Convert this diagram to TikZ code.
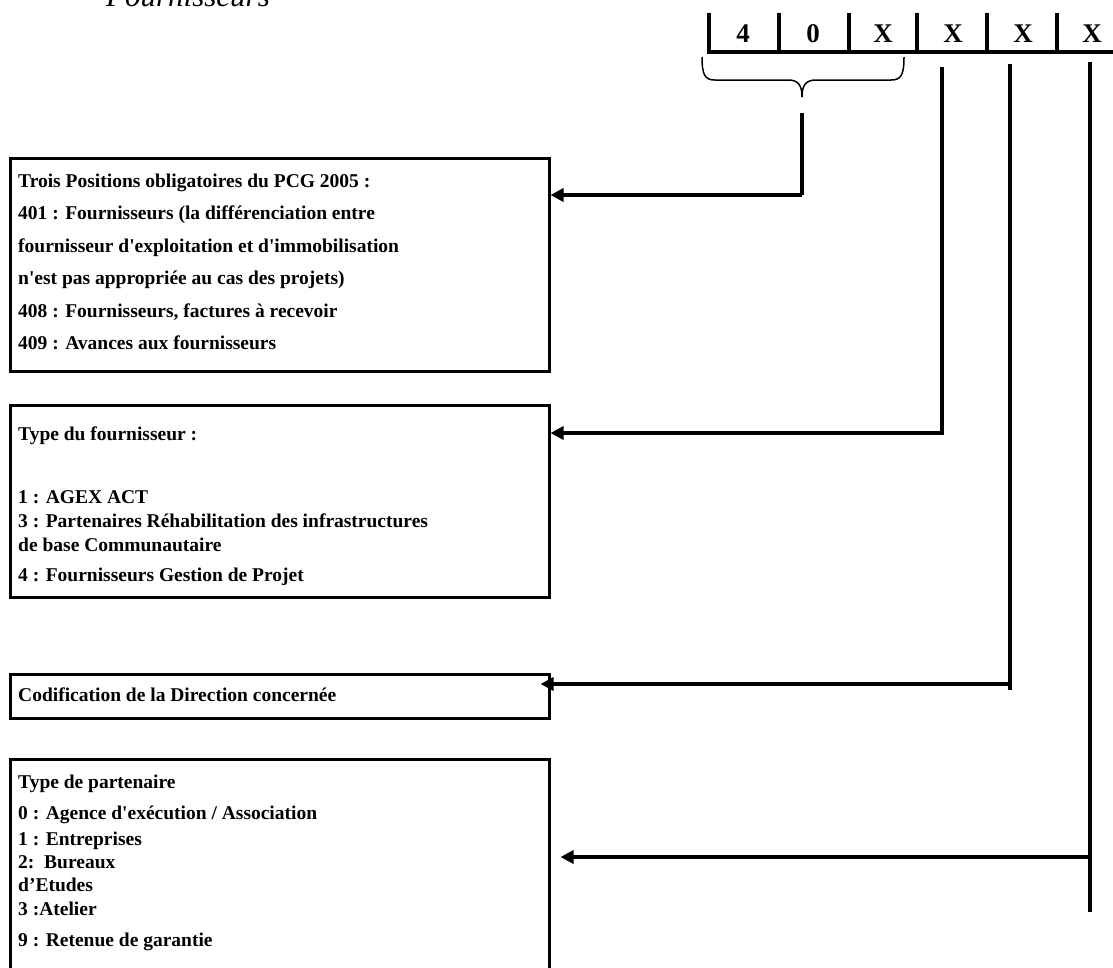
\documentclass[tikz,border=0pt]{standalone}
\usepackage{fontspec}
\setmainfont{Liberation Serif}
\usetikzlibrary{arrows.meta}
\begin{document}
\begin{tikzpicture}[x=1pt,y=-1pt,
  boxst/.style={draw, line width=2.5pt, anchor=north west, inner sep=0pt, minimum width=539pt},
  txt/.style={anchor=base west, inner sep=0pt, font=\fontsize{19.5}{23}\selectfont\bfseries},
  digit/.style={anchor=base, inner sep=0pt, font=\fontsize{27}{30}\selectfont\bfseries},
  grid/.style={line width=4pt},
  conn/.style={line width=4pt},
  arr/.style={line width=4pt, -{Triangle[length=13pt,width=13pt]}},
  brace/.style={line width=1.5pt}
]
\useasboundingbox (0,0) rectangle (1113,967);
\clip (0,0) rectangle (1113,967);

% title
\node[anchor=base west, inner sep=0pt, font=\fontsize{31}{35}\selectfont\itshape] (title) at (106,6.5) {Fournisseurs};

% code row
\draw[grid] (709,13) -- (709,52) -- (1113,52);
\foreach \x in {779,849,917,987,1057} \draw[grid] (\x,13) -- (\x,52);
\node[digit] (d1) at (743,42) {4};
\node[digit] (d2) at (813,42) {0};
\node[digit] (d3) at (883,42) {X};
\node[digit] (d4) at (953,42) {X};
\node[digit] (d5) at (1023,42) {X};
\node[digit] (d6) at (1092,42) {X};

% brace
\draw[brace] (702,57) .. controls (702,75) and (705,80) .. (715,80) -- (788,80)
  .. controls (798,80) and (802,85) .. (802,97)
  .. controls (802,85) and (806,80) .. (816,80) -- (891,80)
  .. controls (901,80) and (904,75) .. (904,57);

% boxes
\node[boxst, minimum height=213pt] (b1) at (9,157) {};
\node[boxst, minimum height=192pt] (b2) at (9,404) {};
\node[boxst, minimum height=44pt] (b3) at (9,673) {};
\node[boxst, minimum height=300pt] (b4) at (9,758) {};

% box 1 text
\node[txt] (t11) at (18,187) {Trois Positions obligatoires du PCG 2005 :};
\node[txt] (t12) at (18,219.5) {401 : Fournisseurs (la différenciation entre};
\node[txt] (t13) at (18,252) {fournisseur d\textquotesingle exploitation et d\textquotesingle immobilisation};
\node[txt] (t14) at (18,284.5) {n\textquotesingle est pas appropriée au cas des projets)};
\node[txt] (t15) at (18,317) {408 : Fournisseurs, factures à recevoir};
\node[txt] (t16) at (18,349.5) {409 : Avances aux fournisseurs};

% box 2 text
\node[txt] (t21) at (18,440) {Type du fournisseur :};
\node[txt] (t22) at (18,503) {1 : AGEX ACT};
\node[txt] (t23) at (18,527) {3 : Partenaires Réhabilitation des infrastructures};
\node[txt] (t24) at (18,551) {de base Communautaire};
\node[txt] (t25) at (18,581) {4 : Fournisseurs Gestion de Projet};

% box 3 text
\node[txt] (t31) at (18,701) {Codification de la Direction concernée};

% box 4 text
\node[txt] (t41) at (18,788) {Type de partenaire};
\node[txt] (t42) at (18,819) {0 : Agence d\textquotesingle exécution / Association};
\node[txt] (t43) at (18,845) {1 : Entreprises};
\node[txt] (t44) at (18,868) {2:\hspace{0.5em}Bureaux};
\node[txt] (t45) at (18,891) {d’Etudes};
\node[txt] (t46) at (18,915) {3 :Atelier};
\node[txt] (t47) at (18,946) {9 : Retenue de garantie};

% stems
\coordinate (s1a) at (802,113); \coordinate (s1b) at (802,195);
\coordinate (s2a) at (942,67);  \coordinate (s2b) at (942,433); \coordinate (s2c) at (942,435);
\coordinate (s3a) at (1010,64); \coordinate (s3b) at (1010,684); \coordinate (s3c) at (1010,690);
\coordinate (s4a) at (1090,62); \coordinate (s4b) at (1090,857); \coordinate (s4c) at (1090,912);

\draw[conn] (s1a) -- (s1b);
\draw[conn] (s2a) -- (s2c);
\draw[conn] (s3a) -- (s3c);
\draw[conn] (s4a) -- (s4c);

% arrows
\draw[arr] (s1b) -- (b1.east |- s1b);
\draw[arr] (s2b) -- (b2.east |- s2b);
\draw[arr, shorten >=-10pt] (s3b) -- (b3.east |- s3b);
\draw[arr, shorten >=10pt] (s4b) -- (b4.east |- s4b);
\end{tikzpicture}
\end{document}
